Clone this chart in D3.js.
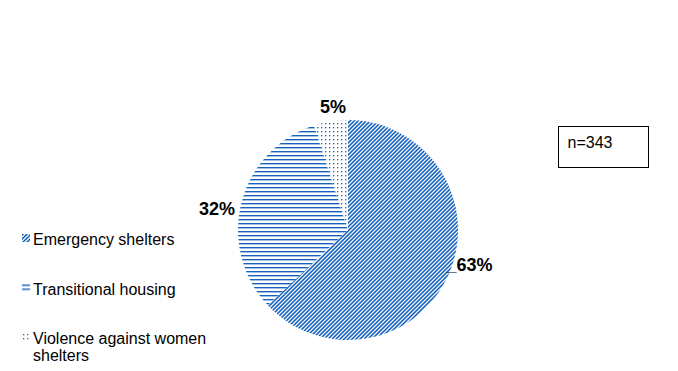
<!DOCTYPE html>
<html>
<head>
<meta charset="utf-8">
<script src="https://cdn.jsdelivr.net/npm/d3@7"></script>
<style>
  html, body { margin: 0; padding: 0; background: #fff; }
  svg { display: block; font-family: Arial, "Liberation Sans", sans-serif; }
</style>
</head>
<body>
<div id="chart"></div>
<script>
// Shelter type breakdown (n=343)
const categories = ['Emergency shelters', 'Transitional housing', 'Violence against women shelters'];
const shares = [63, 32, 5];
const patterns = ['diag', 'horiz', 'dots'];
const sampleLabel = 'n=343';

(function() {
  'use strict';

  const width = 678, height = 371;
  const blue = '#1562bf';
  const cx = 348, cy = 230, radius = 110;

  const svg = d3.select('#chart')
    .append('svg')
    .attr('width', width)
    .attr('height', height);

  // Pattern fills, like the office hatches
  const defs = svg.append('defs');

  function tile(id) {
    const p = defs.append('pattern')
      .attr('id', id)
      .attr('patternUnits', 'userSpaceOnUse')
      .attr('width', 4).attr('height', 4);
    p.append('rect').attr('width', 4).attr('height', 4).attr('fill', '#fff');
    return p;
  }

  // dark upward diagonal
  tile('diag').append('path')
    .attr('d', 'M0,0L2.2,0L0,2.2Z M4,0L4,2.2L2.2,4L0,4Z')
    .attr('fill', blue);

  // horizontal lines
  tile('horiz').append('rect')
    .attr('x', 0).attr('y', 1)
    .attr('width', 4).attr('height', 1.4)
    .attr('fill', blue);

  // sparse dots
  tile('dots').append('rect')
    .attr('x', 1).attr('y', 1)
    .attr('width', 1.3).attr('height', 1.3)
    .attr('fill', blue);

  // Pie
  const data = categories.map((c, i) => ({ name: c, value: shares[i], pattern: patterns[i] }));
  const pie = d3.pie().value(d => d.value).sort(null);
  const arcs = pie(data);
  const arc = d3.arc().innerRadius(0).outerRadius(radius);

  const g = svg.append('g').attr('transform', `translate(${cx},${cy})`);

  g.selectAll('path')
    .data(arcs)
    .join('path')
    .attr('d', arc)
    .attr('fill', d => `url(#${d.data.pattern})`);

  // Data labels: placed on an outer ring, then nudged like Excel's best fit
  const labelArc = d3.arc().innerRadius(128).outerRadius(128);
  const nudge = [[4, -16], [-7, 11], [5, 3]];
  const prefix = ['_', '', ''];

  g.selectAll('text.lbl')
    .data(arcs)
    .join('text')
    .attr('class', 'lbl')
    .attr('transform', (d, i) => {
      const [x, y] = labelArc.centroid(d);
      return `translate(${x + nudge[i][0]},${y + nudge[i][1]})`;
    })
    .attr('text-anchor', 'middle')
    .attr('dy', '0.35em')
    .attr('font-size', '18px')
    .attr('font-weight', 'bold')
    .attr('fill', '#000')
    .text((d, i) => prefix[i] + d.data.value + '%');

  // Legend
  const legend = svg.append('g').attr('transform', 'translate(22,234)');
  const item = legend.selectAll('g')
    .data(data)
    .join('g')
    .attr('transform', (d, i) => `translate(0,${i * 49.5})`);

  item.append('rect')
    .attr('width', 8).attr('height', 8)
    .attr('fill', d => `url(#${d.pattern})`);

  item.append('text')
    .attr('x', 11)
    .attr('y', 11)
    .attr('font-size', '16px')
    .attr('fill', '#000')
    .each(function(d) {
      // Wrap long names onto a second line
      const words = d.name.split(' ');
      const lines = d.name.length > 24
        ? [words.slice(0, 3).join(' '), words.slice(3).join(' ')]
        : [d.name];
      lines.forEach((ln, k) => {
        d3.select(this).append('tspan')
          .attr('x', 11)
          .attr('dy', k === 0 ? 0 : 17)
          .text(ln);
      });
    });

  // Sample size box
  const box = svg.append('g').attr('transform', 'translate(558.5,126.5)');
  box.append('rect')
    .attr('width', 90).attr('height', 41)
    .attr('fill', '#fff')
    .attr('stroke', '#000')
    .attr('stroke-width', 1);
  box.append('text')
    .attr('x', 9)
    .attr('y', 21)
    .attr('font-size', '16px')
    .attr('fill', '#000')
    .text(sampleLabel);
})();
</script>
</body>
</html>
